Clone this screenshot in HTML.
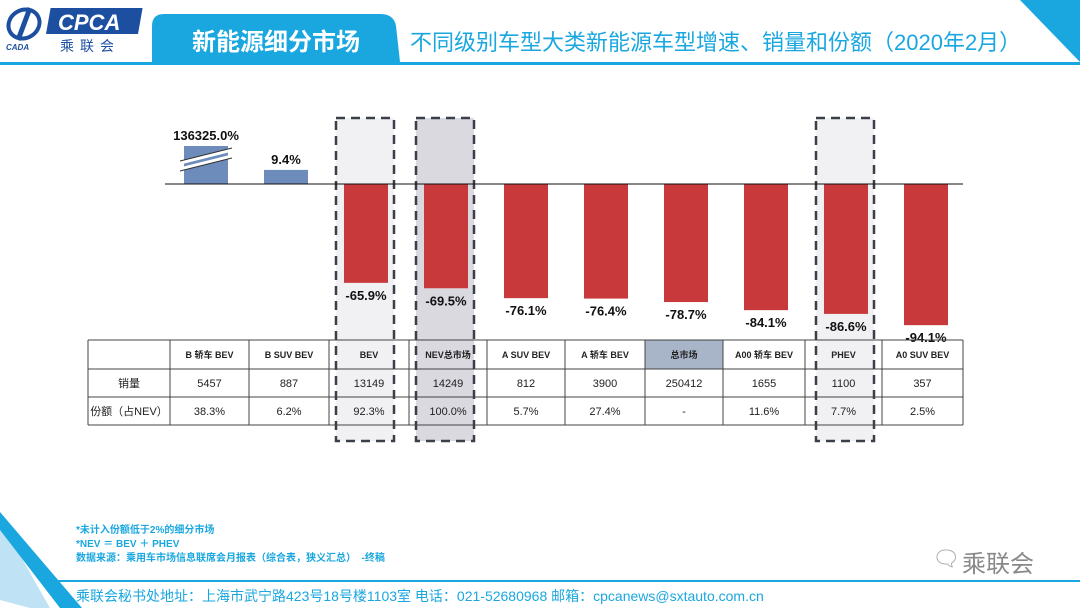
<!DOCTYPE html>
<html><head><meta charset="utf-8"><style>
body{margin:0;width:1080px;height:608px;overflow:hidden;background:#fff;font-family:"Liberation Sans","Noto Sans CJK SC",sans-serif;position:relative}
.abs{position:absolute}
</style></head><body>
<svg width="1080" height="608" class="abs" style="left:0;top:0">
  <g>
    <ellipse cx="24" cy="24" rx="16" ry="14" fill="none" stroke="#1d4fa0" stroke-width="4" transform="rotate(-30 24 24)"/>
    <path d="M18 40 L30 8" stroke="#1d4fa0" stroke-width="5"/>
    <text x="6" y="50" font-size="8" font-style="italic" font-weight="bold" fill="#1d4fa0">CADA</text>
    <rect x="52" y="8" width="92" height="26" fill="#1d4fa0" transform="skewX(-10)"/>
    <text x="58" y="30" font-size="22" font-style="italic" font-weight="bold" fill="#fff">CPCA</text>
    <text x="60" y="51" font-size="14" fill="#1d4fa0" letter-spacing="6">乘联会</text>
  </g>
  <path d="M152 62 L152 26 Q152 14 164 14 L380 14 Q394 14 396 26 L400 62 Z" fill="#1aa7e0"/>
  <text x="276" y="50" font-size="24" font-weight="bold" fill="#fff" text-anchor="middle">新能源细分市场</text>
  <text x="410" y="50" font-size="22" fill="#1aa7e0">不同级别车型大类新能源车型增速、销量和份额（2020年2月）</text>
  <rect x="0" y="62" width="1080" height="3" fill="#1aa7e0"/>
  <polygon points="1020,0 1080,0 1080,62" fill="#1aa7e0"/>
  <polygon points="0,520 0,600 30,608 50,608" fill="#bfe3f5"/>
  <polygon points="0,512 0,530 60,608 82,608" fill="#1aa7e0"/>
  <rect x="55" y="580" width="1025" height="2" fill="#1aa7e0"/>
  <g id="chart"></g>
</svg>
<div class="abs" style="left:76px;top:524px;font-size:10px;font-weight:bold;color:#1aa7e0;line-height:14px">*未计入份额低于2%的细分市场<br>*NEV ＝ BEV ＋ PHEV<br>数据来源：乘用车市场信息联席会月报表（综合表，狭义汇总）&nbsp;&nbsp;-终稿</div>
<div class="abs" style="left:962px;top:544px;font-size:24px;color:#888">乘联会</div>
<div class="abs" style="left:932px;top:546px;font-size:22px;color:#aaa">🗨</div>
<div class="abs" style="left:76px;top:586px;font-size:14px;color:#1aa7e0">乘联会秘书处地址：上海市武宁路423号18号楼1103室 电话：021-52680968 邮箱：cpcanews@sxtauto.com.cn</div>
<script>
const categories=["B 轿车 BEV","B SUV BEV","BEV","NEV总市场","A SUV BEV","A 轿车 BEV","总市场","A00 轿车 BEV","PHEV","A0 SUV BEV"];
const growth=[136325.0,9.4,-65.9,-69.5,-76.1,-76.4,-78.7,-84.1,-86.6,-94.1];
const sales=["5457","887","13149","14249","812","3900","250412","1655","1100","357"];
const shares=["38.3%","6.2%","92.3%","100.0%","5.7%","27.4%","-","11.6%","7.7%","2.5%"];
const highlighted=["BEV","NEV总市场","PHEV"];
const NS="http://www.w3.org/2000/svg";
const g=document.getElementById('chart');
function mk(t,a,txt){const e=document.createElementNS(NS,t);for(const k in a)e.setAttribute(k,a[k]);if(txt!==undefined)e.textContent=txt;g.appendChild(e);return e;}
const base=184,k=1.5,capH=38;
const xc=i=>206+i*80;
const yv=v=>{const h=v*k;return v>0?base-Math.min(h,capH):base-h;};
const colB=[88,170,249,329,409,487,565,645,723,805,882,963];
categories.forEach((c,i)=>{if(highlighted.includes(c)){
 const r=mk('rect',{x:xc(i)-30,y:118,width:58,height:323,fill:c==="NEV总市场"?"#d9d9df":"#f1f1f3",stroke:"#3a3f4a","stroke-width":2.5,"stroke-dasharray":"9,6"});
 
 }});
growth.forEach((v,i)=>{
 const y=yv(v),x=xc(i)-22;
 const r=mk('rect',{x:x,y:Math.min(y,base),width:44,height:Math.abs(base-y),fill:v>0?"#6d8cbb":"#c8393b"});
 
 
 if(v*k>capH){mk('path',{d:`M${x-4} ${y+17} L${x+48} ${y+4} M${x-4} ${y+23} L${x+48} ${y+10}`,stroke:"#fff","stroke-width":3});
   mk('path',{d:`M${x-4} ${y+15} L${x+48} ${y+2} M${x-4} ${y+25} L${x+48} ${y+12}`,stroke:"#333","stroke-width":1});}
 const t=mk('text',{x:xc(i),y:v>0?y-6:y+17,"font-size":13,"font-weight":"bold","text-anchor":"middle",fill:"#111"},v.toFixed(1)+"%");
 
 
});
const ax=mk('line',{x1:165,x2:963,y1:base,y2:base,stroke:"#111","stroke-width":1});


const rows=[340,369,397,425];
const hc=mk('rect',{x:colB[7],y:340,width:colB[8]-colB[7],height:29,fill:"#a8b4c8"});


rows.forEach(y=>mk('line',{x1:88,x2:963,y1:y,y2:y,stroke:"#444","stroke-width":1}));
colB.forEach(x=>mk('line',{x1:x,x2:x,y1:340,y2:425,stroke:"#444","stroke-width":1}));
mk('text',{x:129,y:387,"font-size":11,"text-anchor":"middle",fill:"#222"},"销量");
mk('text',{x:129,y:415,"font-size":11,"text-anchor":"middle",fill:"#222"},"份额（占NEV）");
categories.forEach((c,i)=>{
 const cx=(colB[i+1]+colB[i+2])/2;
 const h=mk('text',{x:cx,y:358,"font-size":9,"font-weight":"bold","text-anchor":"middle",fill:"#222"},c);
 
 
 const s=mk('text',{x:cx,y:387,"font-size":11,"text-anchor":"middle",fill:"#222"},sales[i]);
 
 
 const sh=mk('text',{x:cx,y:415,"font-size":11,"text-anchor":"middle",fill:"#222"},shares[i]);
 
 
});
</script>
</body></html>
